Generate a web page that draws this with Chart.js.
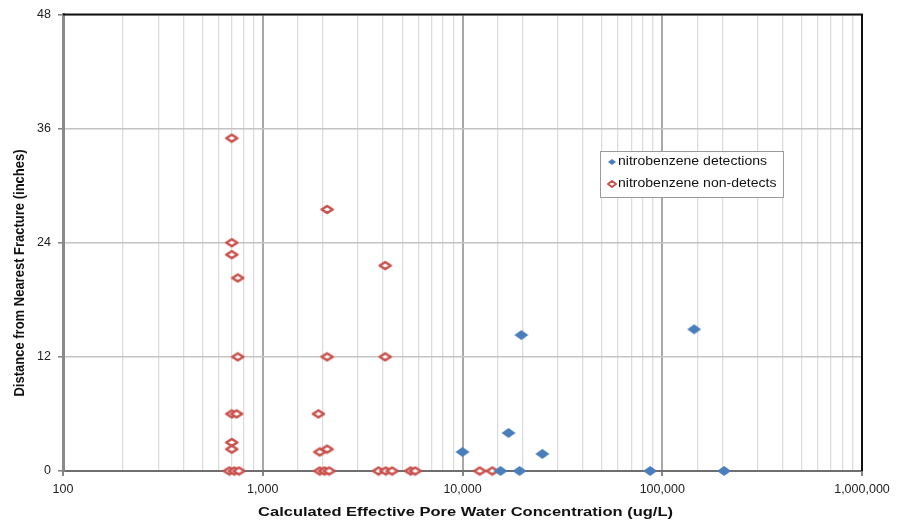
<!DOCTYPE html>
<html>
<head>
<meta charset="utf-8">
<script src="https://cdn.jsdelivr.net/npm/chart.js@4.4.1/dist/chart.umd.min.js"></script>
<style>
  html, body { margin: 0; padding: 0; background: #fff; }
  #wrap { width: 897px; height: 525px; }
</style>
</head>
<body>
<div id="wrap"><canvas id="grafico"></canvas></div>
<script>
// concentracion (ug/L) y distancia (pulgadas)
const detX = [10000, 17000, 19700, 25100, 144500, 15500, 19300, 87000, 204000];
const detY = [2, 4, 14.3, 1.8, 14.9, 0, 0, 0, 0];

const nonX = [700, 2100, 700, 700, 750, 4100, 750, 2100, 4100, 700, 740, 1900, 700, 700, 1930, 2100,
              680, 720, 760, 1930, 2040, 2150, 3800, 4130, 4440, 5500, 5800, 12200, 14100];
const nonY = [35, 27.5, 24, 22.75, 20.3, 21.6, 12, 12, 12, 6, 6, 6, 3, 2.3, 2, 2.3,
              0, 0, 0, 0, 0, 0, 0, 0, 0, 0, 0, 0, 0];

const yTicks = [0, 12, 24, 36, 48];
const xLabelos = [100, 1000, 10000, 100000, 1000000];

const tituloX = 'Calculated Effective Pore Water Concentration (ug/L)';
const tituloY = 'Distance from Nearest Fracture (inches)';

const toPoints = (xs, ys) => xs.map((x, i) => ({x: x, y: ys[i]}));

// rombos achatados como en excel
function rombo(w, h, fill, stroke, lw) {
  const pad = 2;
  const c = document.createElement('canvas');
  c.width = w + pad * 2; c.height = h + pad * 2;
  const g = c.getContext('2d');
  g.beginPath();
  g.moveTo(pad + w / 2, pad);
  g.lineTo(pad + w, pad + h / 2);
  g.lineTo(pad + w / 2, pad + h);
  g.lineTo(pad, pad + h / 2);
  g.closePath();
  g.fillStyle = fill;
  g.fill();
  if (stroke) {
    g.lineWidth = lw;
    g.lineJoin = 'round';
    g.strokeStyle = stroke;
    g.stroke();
  }
  return c;
}

const azul = '#4a7ebb';
const rojo = '#c9504b';
const romboAzul = rombo(14, 10, azul);
const romboRojo = rombo(11, 7, '#fff', rojo, 2.6);
const legAzul = rombo(8, 6, azul);
const legRojo = rombo(8, 6, '#fff', rojo, 2);

const fuente = '"Liberation Sans", Arial, sans-serif';
const esDecada = v => Math.abs(Math.log10(v) - Math.round(Math.log10(v))) < 1e-9;

// texto algo estirado a lo ancho
function textoAncho(ctx, txt, x, y, esc) {
  ctx.save();
  ctx.translate(x, y);
  ctx.scale(esc, 1);
  ctx.fillText(txt, 0, 0);
  ctx.restore();
}

// borde negro arriba y a la derecha, titulos, leyenda
const extras = {
  id: 'extras',
  beforeDatasetsDraw(chart) {
    const ctx = chart.ctx;
    const a = chart.chartArea;
    ctx.save();
    ctx.strokeStyle = '#111';
    ctx.lineWidth = 2;
    ctx.beginPath();
    ctx.moveTo(a.left, a.top);
    ctx.lineTo(a.right, a.top);
    ctx.lineTo(a.right, a.bottom);
    ctx.stroke();
    ctx.restore();
  },
  afterDraw(chart) {
    const ctx = chart.ctx;
    const a = chart.chartArea;
    ctx.save();
    ctx.fillStyle = '#111';
    ctx.textBaseline = 'middle';
    ctx.textAlign = 'center';
    ctx.font = 'bold 13px ' + fuente;
    textoAncho(ctx, tituloX, (a.left + a.right) / 2 + 3, 512, 1.27);

    ctx.translate(20, 273);
    ctx.rotate(-Math.PI / 2);
    ctx.scale(1, 1.15);
    ctx.fillText(tituloY, 0, 0);
    ctx.restore();

    // leyenda
    ctx.save();
    const lx = 600, ly = 151, lw = 183, lh = 46;
    ctx.fillStyle = '#fff';
    ctx.fillRect(lx, ly, lw, lh);
    ctx.strokeStyle = '#9a9a9a';
    ctx.lineWidth = 1;
    ctx.strokeRect(lx + 0.5, ly + 0.5, lw, lh);
    ctx.font = '12px ' + fuente;
    ctx.fillStyle = '#111';
    ctx.textBaseline = 'middle';
    ctx.textAlign = 'left';
    const marcas = [legAzul, legRojo];
    chart.data.datasets.forEach((ds, i) => {
      const yy = ly + 11 + i * 22;
      ctx.drawImage(marcas[i], lx + 6, yy - marcas[i].height / 2);
      textoAncho(ctx, ds.label, lx + 18, yy, 1.17);
    });
    ctx.restore();
  }
};

const data = {
  datasets: [{
    label: 'nitrobenzene detections',
    data: toPoints(detX, detY),
    pointStyle: romboAzul,
    backgroundColor: azul,
    borderColor: azul,
    clip: false
  }, {
    label: 'nitrobenzene non-detects',
    data: toPoints(nonX, nonY),
    pointStyle: romboRojo,
    backgroundColor: '#fff',
    borderColor: rojo,
    clip: false
  }]
};

const config = {
  type: 'scatter',
  data: data,
  options: {
    responsive: true,
    maintainAspectRatio: false,
    animation: false,
    layout: { padding: { top: 12, right: 35, left: 0, bottom: 0 } },
    plugins: {
      legend: { display: false },
      tooltip: { enabled: false }
    },
    scales: {
      x: {
        type: 'logarithmic',
        min: 100,
        max: 1000000,
        afterFit: s => { s.height = 54; },
        border: { color: '#6e6e6e', width: 2 },
        grid: {
          color: c => (c.tick && esDecada(c.tick.value)) ? '#a8a8a8' : '#dcdcdc',
          lineWidth: c => (c.tick && esDecada(c.tick.value)) ? 2 : 1.3,
          tickLength: 5,
          tickColor: c => (c.tick && esDecada(c.tick.value)) ? '#888' : 'rgba(0,0,0,0)'
        },
        ticks: {
          autoSkip: false,
          maxRotation: 0,
          padding: 6,
          color: '#222',
          font: { family: fuente, size: 12.5 },
          callback: function(value) {
            return xLabelos.includes(value) ? value.toLocaleString('en-US') : '';
          }
        }
      },
      y: {
        min: 0,
        max: 48,
        afterFit: s => { s.width = 63; },
        afterBuildTicks: s => { s.ticks = yTicks.map(v => ({value: v})); },
        border: { color: '#8a8a8a', width: 3 },
        grid: {
          color: '#c4c4c4',
          lineWidth: 1.6,
          tickLength: 5,
          tickColor: '#888'
        },
        ticks: {
          padding: 7,
          color: '#222',
          font: { family: fuente, size: 12.5 }
        }
      }
    }
  },
  plugins: [extras]
};

const myChart = new Chart(document.getElementById('grafico'), config);
</script>
</body>
</html>
